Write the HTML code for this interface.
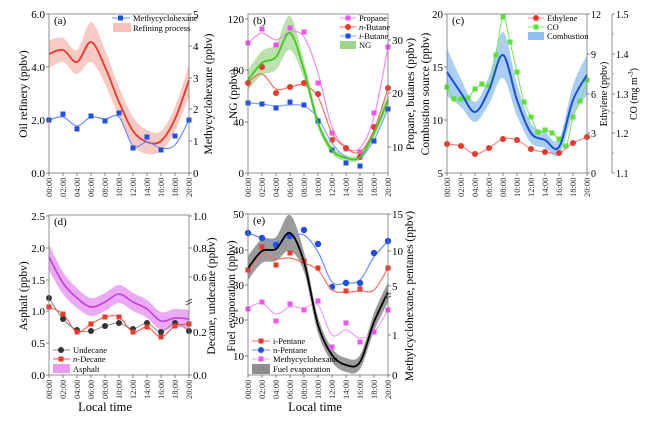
<!DOCTYPE html>
<html><head><meta charset="utf-8">
<style>
html,body{margin:0;padding:0;background:#fff;width:650px;height:424px;overflow:hidden}
svg{display:block;font-family:"Liberation Serif",serif}
</style></head>
<body>
<svg id="s" width="650" height="424" viewBox="0 0 650 424" xmlns="http://www.w3.org/2000/svg"></svg>
<script>
const S=document.getElementById('s');let out='';
function sm(pts){let d='M'+pts[0][0]+','+pts[0][1];for(let i=0;i<pts.length-1;i++){const p0=pts[i-1]||pts[i],p1=pts[i],p2=pts[i+1],p3=pts[i+2]||p2;
d+=' C'+(p1[0]+(p2[0]-p0[0])/6).toFixed(1)+','+(p1[1]+(p2[1]-p0[1])/6).toFixed(1)+' '+(p2[0]-(p3[0]-p1[0])/6).toFixed(1)+','+(p2[1]-(p3[1]-p1[1])/6).toFixed(1)+' '+p2[0]+','+p2[1];}return d;}
function xs(x0,ys,step){return ys.map((y,i)=>[x0+i*(step||14),y]);}
function line(x0,ys,col,w,step){out+=`<path d="${sm(xs(x0,ys,step))}" fill="none" stroke="${col}" stroke-width="${w}"/>`;}
function band(x0,ys,ws,col,op){const up=xs(x0,ys.map((y,i)=>y-ws[i])),dn=xs(x0,ys.map((y,i)=>y+ws[i])).reverse();
let d=sm(up)+' L'+dn[0][0]+','+dn[0][1]+sm(dn).slice(sm(dn).indexOf('C')-1);out+=`<path d="${d} Z" fill="${col}" opacity="${op}"/>`;}
function sq(x0,ys,col,step,sz){sz=sz||5;xs(x0,ys,step).forEach(p=>{if(p[1]!=null)out+=`<rect x="${p[0]-sz/2}" y="${p[1]-sz/2}" width="${sz}" height="${sz}" fill="${col}"/>`;});}
function ci(x0,ys,col,r){xs(x0,ys).forEach(p=>{if(p[1]!=null)out+=`<circle cx="${p[0]}" cy="${p[1]}" r="${r||3}" fill="${col}"/>`;});}
function txt(x,y,t,sz,anc,rot,extra){out+=`<text x="${x}" y="${y}" font-size="${sz}" text-anchor="${anc||'start'}" ${rot?`transform="rotate(${rot} ${x} ${y})"`:''} ${extra||''}>${t}</text>`;}
function box(x0,y0,x1,y1){out+=`<rect x="${x0}" y="${y0}" width="${x1-x0}" height="${y1-y0}" fill="none" stroke="#777" stroke-width="0.8"/>`;}
function xt(x0,y1){for(let i=0;i<11;i++){const x=x0+14*i;out+=`<line x1="${x}" y1="${y1}" x2="${x}" y2="${y1+3}" stroke="#555" stroke-width="0.7"/>`;
const h=String(i*2).padStart(2,'0')+':00';txt(x+3,y1+24,h,8.5,'start',-90,'fill="#333"');}}
function ly(x,ticks,side,fs){fs=fs||11;ticks.forEach(t=>{const [y,l]=t;if(side=='L'){out+=`<line x1="${x-3}" y1="${y}" x2="${x}" y2="${y}" stroke="#555" stroke-width="0.7"/>`;if(l!=='')txt(x-4,y+4,l,fs,'end');}
else{out+=`<line x1="${x}" y1="${y}" x2="${x+3}" y2="${y}" stroke="#555" stroke-width="0.7"/>`;if(l!=='')txt(x+4,y+4,l,fs,'start');}});}
function vlab(x,y,t,sz){txt(x,y,t,sz||11.5,'middle',-90);}

// ===== (a)
let A=49;
const ra=[54,50,62,42,67,102,131,142,141,119,80];
band(A,ra,[14,12,12,20,17,15,14,12,10,12,16],'#f2a79d',0.6);
line(A,ra,'#e8392a',1.8);
line(A,[120,117,126,117,119,117,146,142,148,145,120],'#6b8cff',1.2);
sq(A,[120,114,129,116,121,113,148,137,150,136,120],'#1f4fe0');
box(49,14,189,173);xt(49,173);
ly(49,[[14,'6.0'],[67,'4.0'],[120,'2.0'],[173,'0.0']],'L');
ly(189,[[14,'5'],[46,'4'],[78,'3'],[109,'2'],[141,'1'],[173,'0']],'R');
txt(54,24,'(a)',11);
out+=`<line x1="112" y1="18" x2="130" y2="18" stroke="#6b8cff"/><rect x="118" y="15.5" width="5" height="5" fill="#1f4fe0"/>`;txt(133,21,'Methycyclohexane',8.5);
out+=`<rect x="113" y="23" width="18" height="9" fill="#f2a79d" opacity="0.7"/>`;txt(133,31,'Refining process',8.5);
vlab(27,94,'Oil refinery (ppbv)');vlab(212,94,'Methycyclohexane (ppbv)');

// ===== (b)
let B=248;
band(B,[80,63,57,33,70,123,150,158,157,133,100],[10,12,13,17,9,5,4,3,3,5,7],'#9fd48a',0.7);
line(B,[43,33,40,32,37,73,127,147,148,117,47],'#f08cf0',1.2);sq(B,[43,29,45,28,32,83,133,149,152,113,47],'#ee55ee');
line(B,[82,74,89,87,85,97,133,148,152,130,88],'#f07060',1.2);ci(B,[83,67,93,87,83,94,140,148,157,127,88],'#e8392a');
line(B,[103,104,106,105,106,118,143,157,158,140,109],'#7fa0ff',1.2);sq(B,[103,104,108,102,105,121,150,163,166,141,109],'#1f4fe0');
line(B,[80,63,57,33,70,123,150,158,157,133,100],'#3ccc1a',1.8);
box(248,14,388,173);xt(248,173);
ly(248,[[19,'120'],[70,'80'],[122,'40'],[173,'0']],'L');
ly(388,[[40,'30'],[93,'20'],[147,'10']],'R');
txt(253,24,'(b)',11);
[['#f08cf0','#ee55ee','Propane','s',18],['#f07060','#e8392a','<tspan font-style="italic">n</tspan>-Butane','c',27],['#7fa0ff','#1f4fe0','<tspan font-style="italic">i</tspan>-Butane','s',36]].forEach(l=>{out+=`<line x1="340" y1="${l[4]}" x2="356" y2="${l[4]}" stroke="${l[0]}"/>`;
out+=l[3]=='s'?`<rect x="345.5" y="${l[4]-2.5}" width="5" height="5" fill="${l[1]}"/>`:`<circle cx="348" cy="${l[4]}" r="3" fill="${l[1]}"/>`;txt(359,l[4]+3,l[2],8.5);});
out+=`<rect x="340" y="41" width="16" height="8" fill="#9fd48a"/>`;txt(359,48,'NG',8.5);
vlab(237,94,'NG (ppbv)');vlab(414,94,'Propane, butanes (ppbv)');

// ===== (c)
let C=447;
band(C,[72,93,112,90,55,100,133,140,147,100,75],[24,14,10,14,23,16,10,8,8,15,20],'#8fbff0',0.75);
line(C,[87,99,99,98,89,84,86,55,17,42,72,102,117,132,130,133,139,146,117,101,80],'#7de85a',1.1,7);
sq(C,[87,99,99,98,89,84,86,55,17,42,72,102,117,132,130,133,139,146,117,101,80],'#5ee03a',7);
line(C,[72,93,112,90,55,100,133,140,147,100,75],'#1a4fd8',2);
line(C,[144,146,154,148,139,140,149,152,153,143,137],'#f08080',1.1);ci(C,[144,146,154,148,139,140,149,152,153,143,137],'#e8392a');
box(447,14,587,173);xt(447,173);
ly(447,[[14,'20'],[67,'15'],[120,'10'],[173,'5']],'L');
ly(587,[[14,'12'],[54,'9'],[94,'6'],[133,'3'],[173,'0']],'R',10);
out+=`<line x1="612" y1="14" x2="612" y2="173" stroke="#777" stroke-width="0.8"/>`;
for(let i=0;i<8;i++){const y=34+i*20-(i>3?0:0);}
[34,74,113,153].forEach(y=>{out+=`<line x1="612" y1="${y}" x2="614" y2="${y}" stroke="#777" stroke-width="0.6"/>`;});
ly(612,[[14,'1.5'],[54,'1.4'],[94,'1.3'],[133,'1.2'],[173,'1.1']],'R',10);
txt(452,24,'(c)',11);
out+=`<line x1="528" y1="18" x2="544" y2="18" stroke="#f08080"/><circle cx="536" cy="18" r="3" fill="#e8392a"/>`;txt(547,21,'Ethylene',8.5);
out+=`<line x1="528" y1="27" x2="544" y2="27" stroke="#7de85a"/><rect x="533.5" y="24.5" width="5" height="5" fill="#5ee03a"/>`;txt(547,30,'CO',8.5);
out+=`<rect x="528" y="32" width="16" height="8" fill="#8fbff0"/>`;txt(547,39,'Combustion',8.5);
vlab(429,94,'Combustion source (ppbv)');vlab(607,94,'Ethylene (ppbv)',10);vlab(637,94,'CO (mg m<tspan dy="-4" font-size="7">-3</tspan><tspan dy="4">)</tspan>',10);

// ===== (d)
let D=49;
band(D,[257,283,298,307,302,294,302,309,321,318,319],[13,11,10,9,9,9,9,9,9,9,9],'#e070f0',0.6);
line(D,[257,283,298,307,302,294,302,309,321,318,319],'#c040e0',1.6);
line(D,[298,319,330,331,326,323,329,323,332,323,331],'#888',1);ci(D,[298,319,330,331,326,323,329,323,332,323,331],'#333',3);
line(D,[307,314,332,324,317,317,332,327,337,326,324],'#f05040',1);sq(D,[307,314,332,324,317,317,332,327,337,326,324],'#e8392a');
box(49,215,189,375);xt(49,375);
ly(49,[[216,'2.5'],[248,'2.0'],[280,'1.5'],[311,'1.0'],[343,'0.5'],[375,'0.0']],'L');
ly(189,[[216,'1.0'],[248,'0.8'],[277,'0.6'],[332,'0.2'],[375,'0.0']],'R');
out+=`<line x1="186" y1="302" x2="192" y2="299" stroke="#555"/><line x1="186" y1="305" x2="192" y2="302" stroke="#555"/>`;
txt(54,225,'(d)',11);
out+=`<line x1="53" y1="350" x2="70" y2="350" stroke="#888"/><circle cx="61" cy="350" r="3" fill="#333"/>`;txt(73,353,'Undecane',8.5);
out+=`<line x1="53" y1="359" x2="70" y2="359" stroke="#f05040"/><rect x="58.5" y="356.5" width="5" height="5" fill="#e8392a"/>`;txt(73,362,'<tspan font-style="italic">n</tspan>-Decane',8.5);
out+=`<rect x="53" y="364" width="17" height="9" fill="#e070f0" opacity="0.7"/>`;txt(73,372,'Asphalt',8.5);
vlab(27,296,'Asphalt (ppbv)');vlab(215,296,'Decane, undecane (ppbv)');
txt(105,411,'Local time',12.5,'middle');

// ===== (e)
let E=248;
band(E,[268,251,249,233,262,325,355,365,362,322,292],[12,12,12,18,10,8,7,7,7,9,10],'#707070',0.7);
line(E,[233,238,242,237,235,252,282,283,280,257,241],'#6b8cff',1.2);ci(E,[233,238,245,236,230,244,287,283,283,253,241],'#1f4fe0',3.2);
line(E,[270,255,259,258,263,270,290,292,291,290,268],'#f07060',1.2);sq(E,[270,247,265,253,261,268,null,291,289,null,268],'#e8392a');
line(E,[308,303,314,307,308,305,335,330,338,332,310],'#f0a0f0',1.2);sq(E,[309,302,321,304,310,301,347,323,342,332,310],'#ee55ee');
line(E,[268,251,249,233,262,325,355,365,362,322,292],'#000',1.8);
box(248,214,388,375);xt(248,375);
ly(248,[[214,'50'],[250,'40'],[285,'30'],[320,'20'],[356,'10']],'L');
ly(388,[[214,'15'],[251,'10'],[286,'5'],[335,'1'],[375,'0']],'R');
out+=`<line x1="385" y1="296" x2="391" y2="293" stroke="#555"/><line x1="385" y1="299" x2="391" y2="296" stroke="#555"/>`;
txt(253,224,'(e)',11);
[['#f07060','#e8392a','i-Pentane','s',341],['#6b8cff','#1f4fe0','n-Pentane','c',350],['#f0a0f0','#ee55ee','Methycyclohexane','s',359]].forEach(l=>{out+=`<line x1="252" y1="${l[4]}" x2="270" y2="${l[4]}" stroke="${l[0]}"/>`;
out+=l[3]=='s'?`<rect x="258.5" y="${l[4]-2.5}" width="5" height="5" fill="${l[1]}"/>`:`<circle cx="261" cy="${l[4]}" r="3" fill="${l[1]}"/>`;txt(273,l[4]+3,l[2],8.5);});
out+=`<rect x="252" y="364" width="18" height="10" fill="#707070" opacity="0.8"/>`;txt(273,372,'Fuel evaporation',8.5);
vlab(235,296,'Fuel evaporation (ppbv)');vlab(413,296,'Methylcyclohexane, pentanes (ppbv)');
txt(315,411,'Local time',12.5,'middle');
S.innerHTML=out;
</script>
</body></html>
